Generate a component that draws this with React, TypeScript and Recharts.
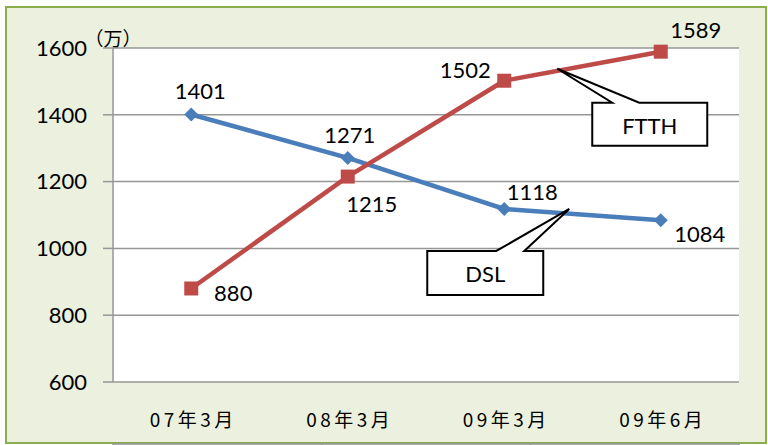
import {
    LineChart,
    Line,
    XAxis,
    YAxis,
    CartesianGrid,
    LabelList,
    ReferenceDot,
    Label,
} from 'recharts';

const categories = ['07年3月', '08年3月', '09年3月', '09年6月'];
const dslValues = [1401, 1271, 1118, 1084];
const ftthValues = [880, 1215, 1502, 1589];
const yTicks = [600, 800, 1000, 1200, 1400, 1600];

// label offsets (dx, dy) from each point, per series
const dslLabelOffsets = [[9, -24], [2, -23], [28, -17], [39, 13]];
const ftthLabelOffsets = [[42, 4], [24, 27], [-39, -11], [35, -22]];

const data = categories.map((c, i) => ({ cat: c, dsl: dslValues[i], ftth: ftthValues[i] }));

const NUM_FONT = 'Lato, "Open Sans", sans-serif';
const CJK_FONT = '"Noto Sans CJK JP", sans-serif';

function Diamond(props: any) {
    const { cx, cy } = props;
    if (cx == null || cy == null) return null;
    const r = 7;
    return <polygon points={`${cx},${cy - r} ${cx + r},${cy} ${cx},${cy + r} ${cx - r},${cy}`} fill="#4a7ebb" />;
}

function Square(props: any) {
    const { cx, cy } = props;
    if (cx == null || cy == null) return null;
    return <rect x={cx - 7} y={cy - 7} width={14} height={14} fill="#be4b48" />;
}

function makeLabel(offsets: number[][]) {
    return (props: any) => {
        const { x, y, value, index } = props;
        const [dx, dy] = offsets[index];
        return (
            <text x={x + dx} y={y + dy} textAnchor="middle" dominantBaseline="central"
                fontFamily={NUM_FONT} fontSize={22} fill="#000">
                {value}
            </text>
        );
    };
}

// callout bubble: tip at (tx, ty) relative to anchor, box at (bx, by, bw, bh), pointer base from b1 to b2 on top edge
function callout(text: string, tx: number, ty: number, bx: number, by: number, bw: number, bh: number, b1: number, b2: number) {
    return (props: any) => {
        const { cx, cy } = props;
        if (cx == null || cy == null) return null;
        const L = cx + bx, T = cy + by, R = L + bw, B = T + bh;
        const pts = [
            [L, T], [cx + b1, T], [cx + tx, cy + ty], [cx + b2, T], [R, T], [R, B], [L, B],
        ].map((p) => p.join(',')).join(' ');
        return (
            <g>
                <polygon points={pts} fill="#fff" stroke="#000" strokeWidth={2} strokeLinejoin="miter" />
                <text x={(L + R) / 2} y={(T + B) / 2 + 1} textAnchor="middle" dominantBaseline="central"
                    fontFamily={NUM_FONT} fontSize={22} fill="#000">
                    {text}
                </text>
            </g>
        );
    };
}

const XTick = (props: any) => {
    const { x, payload } = props;
    return (
        <text x={x + 2} y={418} textAnchor="middle" dominantBaseline="central"
            fontFamily={CJK_FONT} fontSize={19} letterSpacing={3.5} fill="#000">
            {payload.value}
        </text>
    );
};

export default function App() {
    return (
        <div style={{ position: 'absolute', left: 0, top: 0, width: 768, height: 445 }}>
            <div style={{
                position: 'absolute', left: 5, top: 6, width: 758, height: 434,
                background: '#ebf1de', border: '2px solid #8cad4e',
            }} />
            <div style={{ position: 'absolute', left: 0, top: 0 }}>
                <LineChart width={768} height={445} data={data}
                    margin={{ top: 48, right: 29, left: 0, bottom: 0 }}>
                    <CartesianGrid vertical={false} stroke="#969696" strokeWidth={1.5} fill="#fff" />
                    <XAxis xAxisId="edge" type="number" domain={[0, 4]} ticks={[0, 1, 2, 3, 4]}
                        height={1} tickSize={7} tickFormatter={() => ''}
                        stroke="#969696" strokeWidth={1.5} />
                    <XAxis dataKey="cat" scale="band" height={62} axisLine={false} tickLine={false}
                        tick={<XTick />} />
                    <YAxis domain={[600, 1600]} ticks={yTicks} width={113} tickSize={10} tickMargin={16}
                        interval={0} stroke="#969696" strokeWidth={1.5}
                        tick={{ fontFamily: NUM_FONT, fontSize: 22, fill: '#000' }}>
                        <Label content={() => (
                            <text x={113} y={37} textAnchor="middle" dominantBaseline="central"
                                fontFamily={CJK_FONT} fontSize={19} fill="#000">
                                （万）
                            </text>
                        )} />
                    </YAxis>
                    <Line dataKey="dsl" stroke="#4a7ebb" strokeWidth={4.5} dot={<Diamond />}
                        isAnimationActive={false}>
                        <LabelList dataKey="dsl" content={makeLabel(dslLabelOffsets)} />
                    </Line>
                    <Line dataKey="ftth" stroke="#be4b48" strokeWidth={4.5} dot={<Square />}
                        isAnimationActive={false}>
                        <LabelList dataKey="ftth" content={makeLabel(ftthLabelOffsets)} />
                    </Line>
                    <ReferenceDot x={categories[2]} y={1118} ifOverflow="visible"
                        shape={callout('DSL', 65, 0, -77, 42, 116, 44, -8, 20)} />
                    <ReferenceDot x={categories[2]} y={1502} ifOverflow="visible"
                        shape={callout('FTTH', 53, -12, 88, 22, 115, 43, 108, 135)} />
                </LineChart>
            </div>
        </div>
    );
}
